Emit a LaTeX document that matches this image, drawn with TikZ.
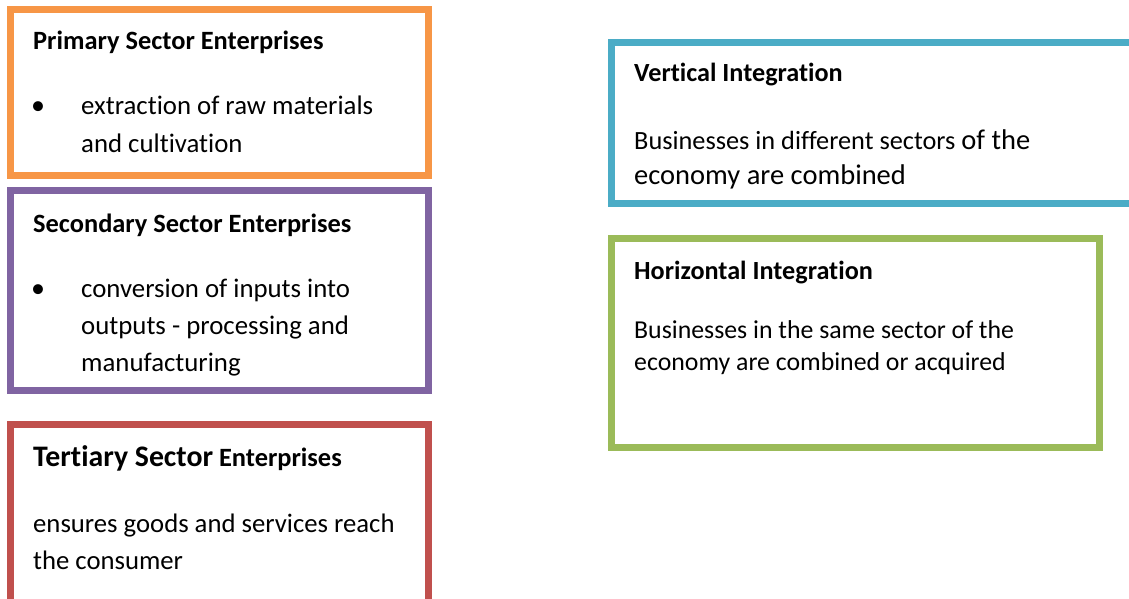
\documentclass[tikz,border=0pt]{standalone}
\usepackage{fontspec}
\setmainfont[Ligatures=NoCommon]{Carlito}
\definecolor{primarycol}{HTML}{F79646}
\definecolor{secondarycol}{HTML}{8064A2}
\definecolor{tertiarycol}{HTML}{C0504D}
\definecolor{verticalcol}{HTML}{4BACC6}
\definecolor{horizontalcol}{HTML}{9BBB59}
\begin{document}
\begin{tikzpicture}[x=1pt, y=-1pt,
    frame/.style={line width=7pt},
    heading/.style={anchor=base west, inner sep=0pt, font=\fontsize{26.4}{30}\selectfont\bfseries},
    body/.style={anchor=base west, inner sep=0pt, align=left, font=\fontsize{26.8}{37.5}\selectfont},
    bullet/.style={anchor=base west, inner sep=0pt, font=\fontsize{28}{30}\selectfont}]
    \useasboundingbox (0,0) rectangle (1129,599);
    \begin{scope}
        \clip (0,0) rectangle (1129,599);
        % sector boxes
        \draw[frame, primarycol] (10.5,9.5) rectangle (428.5,175.5);
        \draw[frame, secondarycol] (10.5,190.5) rectangle (428.5,390.5);
        \draw[frame, tertiarycol] (10.5,424.5) rectangle (428.5,620);
        % integration boxes
        \draw[frame, verticalcol] (611.5,42.5) rectangle (1150,203.5);
        \draw[frame, horizontalcol] (611.5,238.5) rectangle (1099.5,447.5);
    \end{scope}
    \node[heading] (primary) at (33,50) {Primary Sector Enterprises};
    \node[bullet] (primarydot) at (31,114) {•};
    \node[body, font=\fontsize{26.8}{38}\selectfont] (primarytext) at (81,152) {extraction of raw materials\\and cultivation};
    \node[heading] (secondary) at (33,232) {Secondary Sector Enterprises};
    \node[bullet] (secondarydot) at (31,297) {•};
    \node[body, font=\fontsize{26.8}{37}\selectfont] (secondarytext) at (81,371) {conversion of inputs into\\outputs - processing and\\manufacturing};
    \node[heading] (tertiary) at (33,466) {{\fontsize{29.8}{30}\selectfont Tertiary Sector} Enterprises};
    \node[body, font=\fontsize{26.7}{37}\selectfont] (tertiarytext) at (33,569) {ensures goods and services reach\\the consumer};
    \node[heading, font=\fontsize{26.2}{30}\selectfont\bfseries] (vertical) at (634,82) {Vertical Integration};
    \node[body, font=\fontsize{26.3}{35}\selectfont] (verticaltext) at (634,184) {Businesses in different sectors {\fontsize{28.5}{35}\selectfont of the}\\{\fontsize{28.5}{35}\selectfont economy are combined}};
    \node[heading, font=\fontsize{26.2}{30}\selectfont\bfseries] (horizontal) at (634,279) {Horizontal Integration};
    \node[body, font=\fontsize{25.8}{32}\selectfont] (horizontaltext) at (634,370) {Businesses in the same sector of the\\economy are combined or acquired};
\end{tikzpicture}
\end{document}
